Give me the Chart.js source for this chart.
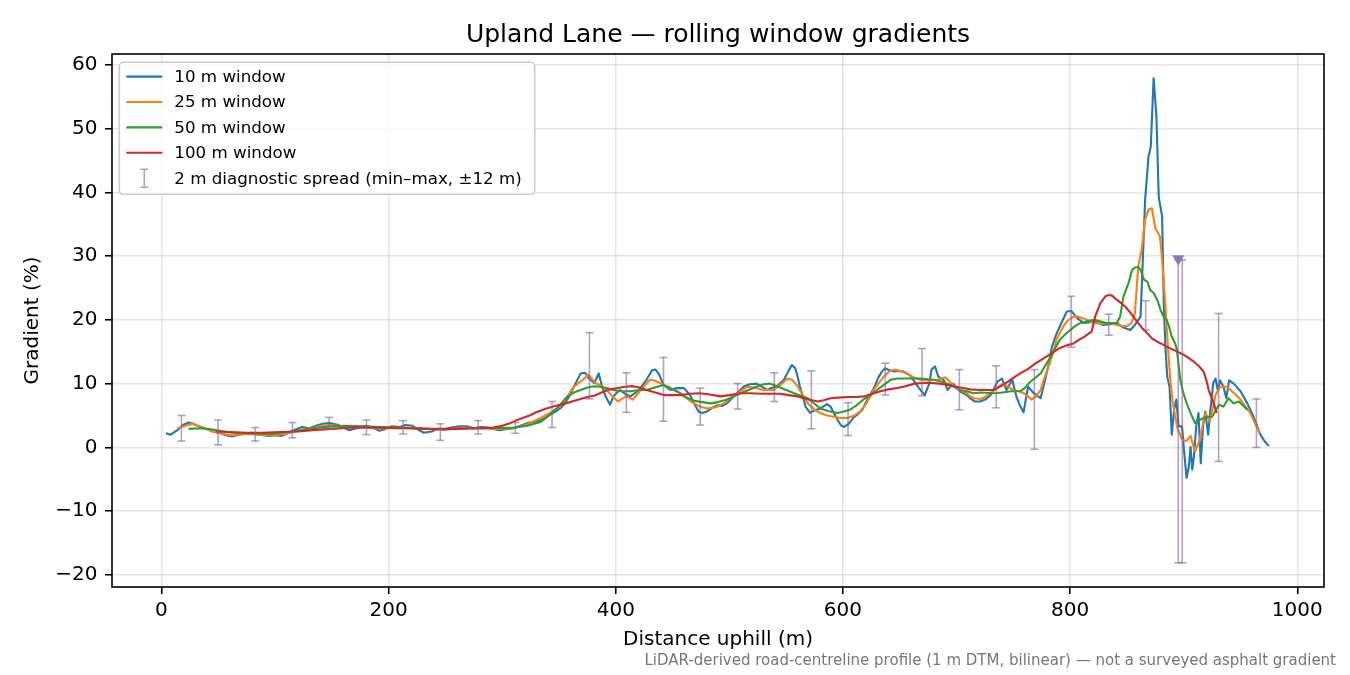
<!DOCTYPE html>
<html>
<head>
<meta charset="utf-8">
<title>Upland Lane — rolling window gradients</title>
<script src="https://cdn.jsdelivr.net/npm/chart.js@4.4.1/dist/chart.umd.min.js"></script>
<style>
  html, body { margin: 0; padding: 0; background: #fff; }
  #wrap { width: 1350px; height: 675px; }
</style>
</head>
<body>
<div id="wrap"><canvas id="gradients" width="1350" height="675"></canvas></div>
<script>
// data (distance in m, gradient in %)
const dist10 = [4, 8, 14, 19, 24, 28, 33, 40, 45, 52, 57, 62, 68, 74, 80, 86, 95, 101, 106, 112, 118, 124, 130, 136, 142, 148, 156, 160, 165, 172, 180, 186, 192, 197, 203, 210, 215, 221, 226, 231, 238, 243, 248, 255, 262, 269, 275, 281, 287, 292, 298, 304, 310, 316, 322, 328, 334, 338, 342, 347, 351, 355, 358, 361, 364, 369, 373, 376, 381, 383, 385, 388, 391, 395, 398, 401, 404, 408, 413, 419, 423, 427, 432, 435, 438, 442, 448, 454, 460, 463, 466, 469, 473, 476, 480, 485, 489, 494, 498, 505, 513, 518, 524, 528, 533, 537, 542, 548, 552, 555, 558, 560, 562, 565, 567, 571, 575, 580, 586, 589, 592, 595, 598, 601, 605, 609, 613, 617, 620, 624, 628, 631, 634, 637, 641, 645, 649, 653, 659, 663, 667, 672, 676, 678, 681, 684, 689, 692, 697, 703, 709, 712, 716, 721, 726, 730, 736, 740, 744, 749, 753, 756, 759, 763, 768, 774, 778, 781, 784, 788, 791, 797, 801, 806, 812, 821, 825, 829, 835, 841, 847, 853, 857, 862, 864, 866, 869, 871, 873.5, 876, 878, 881, 882.5, 884, 885.5, 887.5, 889.5, 891.5, 893.5, 895.5, 898.5, 900.5, 902.5, 904.5, 906, 907.5, 909, 911, 913, 915, 917, 919, 921.5, 923.5, 926, 928, 930, 932, 935, 937.5, 940, 944, 950, 956, 961.5, 967, 971, 975];
const grad10 = [2.2, 2.0, 2.7, 3.5, 3.9, 3.7, 3.3, 2.9, 2.5, 2.2, 1.9, 1.7, 2.0, 2.2, 2.3, 2.0, 1.8, 1.9, 1.8, 2.3, 2.8, 3.2, 3.0, 3.4, 3.7, 3.8, 3.5, 3.1, 2.7, 3.0, 3.4, 3.1, 2.6, 2.9, 3.3, 3.2, 3.5, 3.4, 2.8, 2.3, 2.5, 2.9, 2.8, 3.1, 3.3, 3.3, 3.0, 3.2, 3.1, 2.9, 2.7, 2.9, 3.0, 3.4, 3.8, 4.0, 4.3, 4.6, 5.1, 5.6, 6.1, 6.8, 7.7, 8.7, 9.8, 11.6, 11.7, 10.9, 10.1, 10.8, 11.6, 9.5, 8.0, 6.7, 8.0, 8.6, 9.0, 8.4, 8.0, 8.8, 9.6, 10.6, 12.1, 12.2, 11.5, 9.8, 9.0, 9.3, 9.3, 8.7, 8.0, 6.9, 5.6, 5.4, 5.6, 6.2, 6.6, 6.5, 6.9, 8.2, 9.6, 9.9, 10.0, 9.6, 9.0, 9.3, 9.6, 10.6, 12.0, 12.9, 12.4, 11.2, 9.6, 7.8, 6.4, 5.4, 5.8, 6.1, 6.8, 6.4, 5.4, 4.4, 3.5, 3.2, 3.7, 4.6, 5.2, 5.9, 7.0, 8.2, 9.6, 10.9, 11.8, 12.4, 12.1, 11.9, 12.0, 11.9, 11.3, 10.3, 9.3, 8.2, 10.0, 12.2, 12.7, 11.1, 10.5, 9.0, 10.0, 8.8, 8.2, 7.7, 7.2, 7.2, 7.6, 8.2, 10.3, 10.8, 9.0, 10.6, 7.8, 6.5, 5.5, 9.5, 8.5, 7.7, 10.6, 13.0, 15.8, 17.8, 19.0, 21.3, 21.4, 20.3, 19.5, 19.7, 19.5, 19.2, 19.3, 19.5, 18.8, 18.4, 19.2, 20.5, 29.4, 38.8, 45.6, 47.2, 57.9, 51.9, 39.3, 36.2, 22.1, 15.3, 11.1, 9.5, 2.0, 5.9, 7.5, 3.3, 3.3, -0.9, -4.8, -3.0, 0.1, -3.5, -1.4, 3.3, 5.4, -2.5, 3.3, 5.6, 2.0, 5.9, 10.1, 10.8, 9.0, 10.5, 9.5, 7.7, 10.5, 10.0, 8.8, 6.9, 4.8, 2.2, 1.0, 0.2];

const dist25 = [14, 20, 27, 35, 45, 55, 62, 75, 86, 98, 108, 118, 130, 148, 160, 177, 190, 206, 220, 235, 250, 265, 280, 295, 310, 322, 336, 344, 351, 357, 363, 371, 376, 382, 387, 392, 397, 402, 409, 415, 421, 426, 430, 434, 439, 445, 451, 457, 466, 473, 480, 488, 495, 505, 516, 522, 530, 539, 545, 551, 555, 560, 569, 575, 580, 586, 592, 598, 604, 610, 615, 621, 627, 632, 636, 640, 645, 650, 656, 662, 668, 676, 683, 690, 694, 698, 703, 709, 712, 716, 721, 725, 730, 736, 741, 746, 750, 755, 759, 763, 766, 770, 774, 777, 781, 785, 788, 794, 798, 803, 807, 812, 821, 828, 835, 841, 847, 851, 854, 857, 860, 863, 866, 869, 872, 875, 879, 880.5, 882, 884, 886, 888, 890, 894, 898.5, 902.5, 906, 910, 914, 919, 923, 928, 932, 938, 946, 950, 958.5, 967];
const grad25 = [3.0, 3.3, 3.7, 3.2, 2.5, 2.1, 1.9, 2.1, 2.0, 1.9, 2.1, 2.5, 3.0, 3.5, 3.3, 3.2, 3.0, 3.0, 3.1, 2.9, 2.8, 3.1, 3.0, 2.9, 3.0, 3.6, 4.8, 5.6, 6.4, 7.9, 9.5, 10.6, 11.4, 10.1, 9.7, 9.0, 8.0, 7.2, 8.0, 7.5, 8.8, 9.8, 10.6, 10.5, 10.1, 9.6, 9.0, 8.5, 7.2, 6.5, 6.1, 6.3, 6.9, 8.3, 9.5, 9.4, 9.0, 9.0, 9.8, 10.8, 10.6, 9.6, 6.9, 5.9, 5.4, 5.0, 4.8, 4.6, 4.6, 5.0, 5.6, 7.0, 9.0, 10.2, 11.1, 11.8, 12.2, 12.0, 11.6, 11.0, 10.6, 10.5, 10.6, 11.0, 10.3, 9.6, 9.0, 8.5, 8.0, 7.7, 7.6, 7.9, 8.5, 9.4, 10.0, 9.4, 9.0, 8.8, 8.5, 8.0, 7.5, 8.0, 9.0, 10.7, 12.7, 14.8, 16.9, 19.0, 19.9, 20.5, 20.5, 20.2, 19.5, 19.4, 19.5, 19.2, 19.0, 19.1, 19.5, 21.0, 28.4, 31.0, 35.7, 37.3, 37.5, 34.4, 33.1, 30.5, 27.0, 22.0, 16.0, 11.0, 7.5, 3.3, 1.2, 1.0, 1.8, -0.7, 1.2, 5.4, 4.1, 8.2, 9.5, 9.5, 8.2, 7.5, 5.4, 2.2];

const dist50 = [24, 35, 45, 55, 62, 80, 98, 115, 133, 150, 162, 177, 192, 210, 230, 250, 270, 290, 310, 322, 334, 341, 348, 357, 363, 369, 375, 381, 386, 392, 398, 404, 413, 421, 427, 433, 438, 442, 448, 454, 460, 469, 476, 484, 490, 498, 504, 510, 517, 525, 530, 536, 542, 550, 557, 569, 574, 580, 587, 595, 600, 606, 612, 618, 624, 630, 636, 642, 648, 656, 668, 680, 687, 695, 703, 709, 715, 721, 733, 740, 748, 756, 760, 765, 770, 774, 778, 783, 787, 791, 796, 800, 805, 809, 815, 821, 826, 832, 841, 844, 847, 851.5, 854.5, 857, 860, 862, 865, 868, 870.5, 873.5, 875, 877, 879.5, 882, 885, 887, 889.5, 892.5, 894, 897, 899, 901.5, 903.5, 906, 910, 914, 920, 925, 931, 935, 939.5, 944, 948.5, 952, 956];
const grad50 = [2.9, 3.0, 2.8, 2.5, 2.3, 2.2, 2.1, 2.5, 3.0, 3.3, 3.4, 3.3, 3.2, 3.1, 2.9, 2.8, 3.0, 3.0, 3.1, 3.4, 4.0, 5.0, 6.1, 7.9, 8.6, 9.0, 9.4, 9.6, 9.5, 9.3, 9.0, 8.8, 8.8, 9.0, 9.0, 9.3, 9.6, 9.8, 9.3, 8.8, 8.0, 7.3, 7.1, 6.9, 7.1, 7.5, 8.0, 8.5, 9.0, 9.6, 9.9, 10.0, 9.6, 9.0, 8.5, 7.7, 7.0, 6.1, 5.7, 5.4, 5.6, 5.9, 6.6, 7.5, 8.2, 9.0, 9.8, 10.6, 10.8, 10.8, 10.8, 10.6, 10.3, 9.8, 9.0, 8.8, 8.5, 8.6, 8.5, 8.6, 8.8, 8.8, 9.3, 10.3, 11.0, 11.6, 12.8, 14.2, 15.6, 16.9, 17.8, 18.4, 19.1, 19.5, 19.8, 20.0, 19.8, 19.5, 19.5, 20.5, 23.7, 25.8, 27.8, 28.2, 28.3, 27.8, 26.3, 26.0, 24.7, 24.2, 23.7, 23.0, 21.6, 20.6, 20.0, 19.0, 17.4, 16.3, 15.3, 10.6, 9.0, 7.5, 6.5, 5.4, 3.8, 4.3, 4.8, 4.8, 6.7, 6.4, 7.7, 6.9, 7.2, 6.6, 5.9];

const dist100 = [48, 60, 75, 89, 105, 120, 133, 150, 165, 177, 195, 210, 221, 240, 260, 280, 292, 300, 307, 312, 318, 324, 330, 339, 345, 351, 360, 369, 375, 381, 385, 390, 395, 402, 408, 415, 421, 427, 435, 442, 450, 457, 465, 474, 483, 492, 500, 510, 518, 528, 536, 545, 552, 560, 568, 578, 583, 589, 596, 604, 611, 619, 626, 633, 640, 648, 655, 663, 670, 677, 685, 692, 699, 706, 712, 721, 733, 741, 750, 756, 762, 770, 777, 784, 791, 797, 803, 808, 812, 816, 819, 822, 826.5, 831, 834, 837, 840, 843, 848.5, 854.5, 860, 864, 868, 872, 876.5, 881, 885, 891, 897, 903, 908.5, 913, 917.5, 920, 922, 924, 926.5, 929];
const grad100 = [2.5, 2.4, 2.3, 2.3, 2.4, 2.5, 2.7, 2.9, 3.1, 3.1, 3.1, 3.0, 3.0, 2.9, 2.9, 3.0, 3.1, 3.4, 3.8, 4.2, 4.6, 5.0, 5.5, 6.1, 6.4, 6.7, 7.1, 7.6, 7.9, 8.1, 8.4, 8.8, 9.1, 9.3, 9.5, 9.6, 9.4, 9.0, 8.6, 8.2, 8.2, 8.2, 8.4, 8.5, 8.3, 8.0, 8.2, 8.5, 8.5, 8.4, 8.4, 8.4, 8.2, 8.0, 7.6, 7.2, 7.4, 7.7, 7.8, 7.9, 7.9, 8.0, 8.4, 8.8, 9.1, 9.3, 9.6, 10.0, 10.1, 10.1, 10.0, 9.8, 9.5, 9.3, 9.1, 9.0, 9.0, 9.8, 10.9, 11.6, 12.2, 13.2, 14.0, 14.8, 15.6, 16.0, 16.3, 16.9, 17.3, 17.8, 18.2, 20.5, 22.6, 23.7, 23.9, 23.8, 23.3, 22.9, 22.1, 20.8, 19.5, 18.6, 17.9, 17.1, 16.6, 16.2, 15.8, 15.3, 14.8, 14.2, 13.5, 12.8, 11.9, 10.5, 9.0, 8.0, 6.9, 5.4];

// 2 m diagnostic spread, min and max within ±12 m
const spreadDist = [17.6, 49.9, 82.5, 115.3, 147.6, 180.5, 212.7, 245.6, 278.8, 311.6, 343.9, 376.8, 409.3, 442, 474.3, 507.3, 539.6, 572.2, 604.5, 637.3, 669.6, 702.5, 735, 768.5, 801, 834, 866.5, 895.2, 898.7, 930.7, 964];
const spreadMin = [1.0, 0.4, 1.0, 1.5, 2.85, 2.0, 2.1, 1.1, 2.1, 2.2, 3.1, 7.6, 5.5, 4.1, 3.5, 6.0, 7.2, 2.9, 1.85, 8.2, 8.1, 5.9, 6.2, -0.3, 15.7, 17.6, 18.4, -18.1, -18.1, -2.2, 0.0];
const spreadMax = [5.0, 4.3, 3.1, 3.9, 4.7, 4.3, 4.2, 3.7, 4.2, 3.9, 7.2, 18.0, 11.7, 14.1, 9.3, 10.0, 11.7, 12.0, 7.0, 13.2, 15.5, 12.2, 12.8, 12.2, 23.7, 20.9, 23.0, 29.4, 29.4, 21.0, 7.6];
const flagDist = [895.2];
const flagGrad = [29.6];

const xTicks = [0, 200, 400, 600, 800, 1000];
const yTicks = [-20, -10, 0, 10, 20, 30, 40, 50, 60];

const seriesLabels = ["10 m window", "25 m window", "50 m window", "100 m window"];
const seriesColors = ["#1f77b4", "#ff7f0e", "#2ca02c", "#d62728"];
const spreadLabel = "2 m diagnostic spread (min\u2013max, \u00b112 m)";
const spreadColor = "rgba(128, 100, 162, 0.6)";
const flagColor = "#8c79b3";

const FONT = '"DejaVu Sans", "Liberation Sans", sans-serif';

function toPoints(xs, ys) {
  return xs.map((x, i) => ({ x: x, y: ys[i] }));
}

// stems: lo -> hi, then a gap
const stemPoints = [];
spreadDist.forEach((d, i) => {
  stemPoints.push({ x: d, y: spreadMin[i] }, { x: d, y: spreadMax[i] }, { x: d, y: null });
});
const capPoints = [];
spreadDist.forEach((d, i) => {
  capPoints.push({ x: d, y: spreadMin[i] }, { x: d, y: spreadMax[i] });
});

function lineSet(i, xs, ys) {
  return {
    label: seriesLabels[i],
    data: toPoints(xs, ys),
    borderColor: seriesColors[i],
    borderWidth: 2.1,
    pointRadius: 0,
    tension: 0,
    borderJoinStyle: "round",
    order: 10 - i,
  };
}

// title, frame, in-axes legend, footnote
const decorPlugin = {
  id: "decor",
  afterDatasetsDraw(chart) {
    const { ctx, chartArea: a } = chart;
    ctx.save();
    ctx.strokeStyle = "#000";
    ctx.lineWidth = 1.6;
    ctx.strokeRect(a.left, a.top, a.right - a.left, a.bottom - a.top);
    ctx.restore();
  },
  afterDraw(chart) {
    const { ctx, chartArea: a } = chart;
    ctx.save();
    // title
    ctx.fillStyle = "#000";
    ctx.font = "25px " + FONT;
    ctx.textAlign = "center";
    ctx.textBaseline = "alphabetic";
    ctx.fillText("Upland Lane \u2014 rolling window gradients", (a.left + a.right) / 2, a.top - 12.5);

    // legend box
    const bx = a.left + 7.3, by = a.top + 8.3, bw = 415.4, bh = 132, r = 4;
    ctx.beginPath();
    ctx.moveTo(bx + r, by);
    ctx.arcTo(bx + bw, by, bx + bw, by + bh, r);
    ctx.arcTo(bx + bw, by + bh, bx, by + bh, r);
    ctx.arcTo(bx, by + bh, bx, by, r);
    ctx.arcTo(bx, by, bx + bw, by, r);
    ctx.closePath();
    ctx.fillStyle = "rgba(255,255,255,0.8)";
    ctx.fill();
    ctx.strokeStyle = "#cccccc";
    ctx.lineWidth = 1.6;
    ctx.stroke();

    ctx.font = "16.7px " + FONT;
    ctx.textAlign = "left";
    ctx.textBaseline = "middle";
    const rowY = (k) => by + 14.3 + k * 25.4;
    seriesLabels.forEach((lab, k) => {
      ctx.strokeStyle = seriesColors[k];
      ctx.lineWidth = 2.1;
      ctx.beginPath();
      ctx.moveTo(bx + 7, rowY(k));
      ctx.lineTo(bx + 43, rowY(k));
      ctx.stroke();
      ctx.fillStyle = "#000";
      ctx.fillText(lab, bx + 55, rowY(k) + 1);
    });
    const ey = rowY(4), ex = bx + 25;
    ctx.strokeStyle = spreadColor;
    ctx.lineWidth = 1.6;
    ctx.beginPath();
    ctx.moveTo(ex, ey - 9); ctx.lineTo(ex, ey + 9);
    ctx.moveTo(ex - 4, ey - 9); ctx.lineTo(ex + 4, ey - 9);
    ctx.moveTo(ex - 4, ey + 9); ctx.lineTo(ex + 4, ey + 9);
    ctx.stroke();
    ctx.fillStyle = "#000";
    ctx.fillText(spreadLabel, bx + 55, ey + 1);

    // footnote
    ctx.font = "15px " + FONT;
    ctx.fillStyle = "#777777";
    ctx.textAlign = "right";
    ctx.textBaseline = "alphabetic";
    ctx.fillText("LiDAR-derived road-centreline profile (1 m DTM, bilinear) \u2014 not a surveyed asphalt gradient", 1336, 665);
    ctx.restore();
  },
};

const canvas = document.getElementById("gradients");
const chart = new Chart(canvas, {
  type: "line",
  data: {
    datasets: [
      lineSet(0, dist10, grad10),
      lineSet(1, dist25, grad25),
      lineSet(2, dist50, grad50),
      lineSet(3, dist100, grad100),
      {
        label: spreadLabel,
        data: stemPoints,
        borderColor: spreadColor,
        borderWidth: 1.6,
        pointRadius: 0,
        spanGaps: false,
        order: 3,
      },
      {
        label: "caps",
        data: capPoints,
        showLine: false,
        pointStyle: "line",
        pointRadius: 4,
        pointBorderWidth: 1.6,
        pointBorderColor: spreadColor,
        order: 2,
      },
      {
        label: "flag",
        data: toPoints(flagDist, flagGrad),
        showLine: false,
        pointStyle: "triangle",
        rotation: 180,
        pointRadius: 7,
        pointBorderWidth: 0,
        pointBackgroundColor: flagColor,
        order: 1,
      },
    ],
  },
  options: {
    responsive: false,
    animation: false,
    devicePixelRatio: 1,
    events: [],
    layout: { padding: { left: 0, right: 26, top: 54, bottom: 0 } },
    plugins: {
      legend: { display: false },
      title: { display: false },
      tooltip: { enabled: false },
    },
    scales: {
      x: {
        type: "linear",
        min: -43.5,
        max: 1023.5,
        afterFit: (s) => { s.height = 88; },
        afterBuildTicks: (s) => { s.ticks = xTicks.map((v) => ({ value: v })); },
        ticks: {
          font: { family: FONT, size: 20 },
          color: "#000",
          padding: 5,
          maxRotation: 0,
          callback: (v) => String(v),
        },
        grid: {
          color: "rgba(0,0,0,0.1)",
          lineWidth: 1.5,
          tickColor: "#000",
          tickLength: 7,
          tickWidth: 1.6,
        },
        border: { display: false },
        title: {
          display: true,
          text: "Distance uphill (m)",
          font: { family: FONT, size: 20 },
          color: "#000",
          padding: { top: 0, bottom: 23 },
        },
      },
      y: {
        type: "linear",
        min: -21.9,
        max: 61.7,
        afterFit: (s) => { s.width = 112; },
        afterBuildTicks: (s) => { s.ticks = yTicks.map((v) => ({ value: v })); },
        ticks: {
          font: { family: FONT, size: 20 },
          color: "#000",
          padding: 7.5,
          callback: (v) => (v < 0 ? "\u2212" + Math.abs(v) : String(v)),
        },
        grid: {
          color: "rgba(0,0,0,0.1)",
          lineWidth: 1.5,
          tickColor: "#000",
          tickLength: 7,
          tickWidth: 1.6,
        },
        border: { display: false },
        title: {
          display: true,
          text: "Gradient (%)",
          font: { family: FONT, size: 20 },
          color: "#000",
          padding: { top: 21, bottom: 0 },
        },
      },
    },
  },
  plugins: [decorPlugin],
});
</script>
</body>
</html>
